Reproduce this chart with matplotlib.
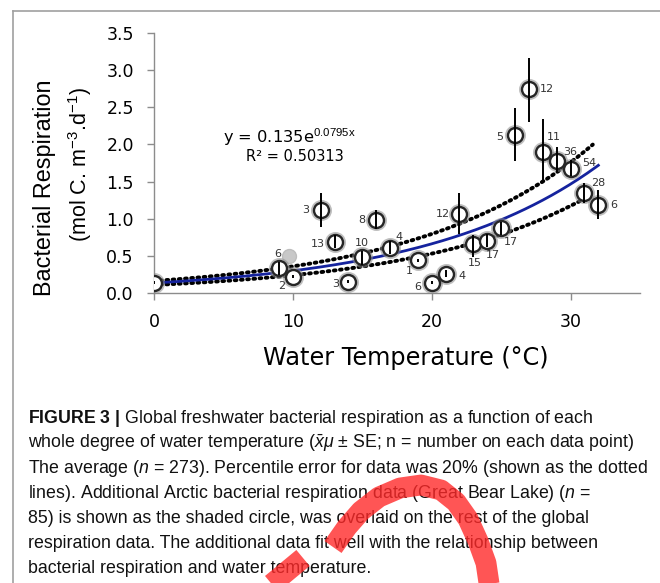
import numpy as np
import matplotlib
matplotlib.use("Agg")
import matplotlib.pyplot as plt
from matplotlib.lines import Line2D

# ---- data ----
temp = [0, 9, 10, 12, 13, 14, 15, 16, 17, 19, 20, 21, 22, 23, 24, 25, 26, 27, 28, 29, 30, 31, 32]
resp = [0.14, 0.34, 0.22, 1.12, 0.69, 0.15, 0.48, 0.98, 0.61, 0.44, 0.14, 0.26, 1.07, 0.66, 0.70, 0.88,
        2.13, 2.74, 1.90, 1.78, 1.67, 1.35, 1.18]
resp_hi = [0.16, 0.42, 0.24, 1.34, 0.78, 0.17, 0.57, 1.12, 0.70, 0.46, 0.16, 0.31, 1.34, 0.78, 0.80, 0.96,
           2.49, 3.17, 2.34, 1.96, 1.79, 1.48, 1.38]
resp_lo = [0.12, 0.24, 0.20, 0.89, 0.60, 0.13, 0.38, 0.86, 0.52, 0.42, 0.12, 0.21, 0.80, 0.49, 0.62, 0.78,
           1.78, 2.30, 1.48, 1.63, 1.57, 1.21, 1.00]
n_labels = ['', '6', '2', '3', '13', '3', '10', '8', '4', '1', '6', '4', '12', '15', '17', '17',
            '5', '12', '11', '36', '54', '28', '6']
# label offsets in pixels (dx, dy up)
label_off = [(0, 0), (-1, 14), (-11, -9), (-15, 0), (-17, -2), (-13, -2), (0, 14), (-14, 0), (9, 11),
             (-9, -11), (-14, -4), (16, -2), (-17, 0), (1, -19), (6, -14), (10, -14),
             (-15, -2), (18, 0), (11, 15), (14, 9), (19, 6), (14, 10), (15, 0)]

arctic_temp = [9.7]
arctic_resp = [0.50]

fit_a, fit_b = 0.135, 0.0795
fit_err = 0.20

caption = [
    r'$\mathbf{FIGURE\ 3\ |}$ Global freshwater bacterial respiration as a function of each',
    r'whole degree of water temperature ($\bar{x}\mu$ $\pm$ SE; n = number on each data point)',
    r'The average ($n$ = 273). Percentile error for data was 20% (shown as the dotted',
    r'lines). Additional Arctic bacterial respiration data (Great Bear Lake) ($n$ =',
    r'85) is shown as the shaded circle, was overlaid on the rest of the global',
    r'respiration data. The additional data fit well with the relationship between',
    r'bacterial respiration and water temperature.',
]

W, H = 660, 583
plt.rcParams['mathtext.fontset'] = 'custom'
plt.rcParams['mathtext.rm'] = 'Liberation Sans'
plt.rcParams['mathtext.it'] = 'Liberation Sans:italic'
plt.rcParams['mathtext.bf'] = 'Liberation Sans:bold'


def fx(px):
    return px / W


def fy(py):
    return 1 - py / H


fig = plt.figure(figsize=(W / 100, H / 100), dpi=100)
ax = fig.add_axes([fx(154), fy(293), (640 - 154) / W, (293 - 33) / H])

# fit line and +-20% dotted band
xf = np.linspace(0, 32, 200)
ax.plot(xf, fit_a * np.exp(fit_b * xf), color='#15239e', lw=2.0, zorder=3)
xd = np.linspace(0, 31.6, 200)
ax.plot(xd, (1 + fit_err) * fit_a * np.exp(fit_b * xd), color='black', lw=2.8,
        ls=(0, (0.45, 1.15)), dash_capstyle='round', zorder=2)
ax.plot(xd, (1 - fit_err) * fit_a * np.exp(fit_b * xd), color='black', lw=2.8,
        ls=(0, (0.45, 1.15)), dash_capstyle='round', zorder=2)

# arctic point
ax.plot(arctic_temp, arctic_resp, 'o', ms=10, mfc='#c8c8c8', mec='#bdbdbd', zorder=4)

# shadow + open circles
ax.plot(temp, resp, 'o', ms=12.5, mfc='white', mec='#8a8a8a', mew=2.6, alpha=0.55, zorder=5)
ax.plot(temp, resp, 'o', ms=10.8, mfc='white', mec='#262626', mew=1.7, zorder=6)
ax.vlines(temp, resp_lo, resp_hi, color='black', lw=1.4, zorder=7)

for x, y, s, (dx, dy) in zip(temp, resp, n_labels, label_off):
    if s:
        ax.annotate(s, (x, y), xytext=(dx, dy), textcoords='offset pixels',
                    ha='center', va='center', fontsize=8, color='#333333', zorder=8)

ax.set_xlim(0, 35)
ax.set_ylim(0, 3.5)
ax.set_xticks([0, 10, 20, 30])
ax.set_yticks(np.arange(0, 3.51, 0.5))
ax.set_yticklabels(['%.1f' % v for v in np.arange(0, 3.51, 0.5)])
for s in ['top', 'right']:
    ax.spines[s].set_visible(False)
for s in ['left', 'bottom']:
    ax.spines[s].set_color('#8c8c8c')
    ax.spines[s].set_linewidth(1.0)
ax.tick_params(axis='both', direction='out', length=5, width=1, color='#8c8c8c',
               labelsize=12.5, pad=9.5)

# equation text
fig.text(fx(223), fy(143), r'y = 0.135e$^{\mathrm{0.0795x}}$', fontsize=11.7, ha='left', va='baseline')
fig.text(fx(246), fy(161), 'R² = 0.50313', fontsize=10.5, ha='left', va='baseline')

# axis titles
fig.text(fx(405.8), fy(358), 'Water Temperature (°C)', fontsize=17.3, ha='center', va='center')
fig.text(fx(45), fy(187.5), 'Bacterial Respiration', fontsize=16.8, family='Liberation Sans',
         rotation=90, ha='center', va='center')
fig.text(fx(80), fy(165), r'(mol C. m$^{-3}$.d$^{-1}$)', fontsize=15.5, family='Liberation Sans',
         rotation=90, ha='center', va='center')

# panel frame
fig.add_artist(Line2D([fx(13), fx(660)], [fy(11), fy(11)], color='#a0a0a0', lw=1.2))
fig.add_artist(Line2D([fx(13), fx(13)], [fy(11), fy(583)], color='#a0a0a0', lw=1.2))

# caption
for i, line in enumerate(caption):
    fig.text(fx(28), fy(422.7 + 25 * i), line, fontsize=12.8, family='Liberation Sans',
             ha='left', va='baseline', color='#111111')

# red watermark stroke
arc_px = [(333, 547), (347, 527), (361, 511), (379, 497), (400, 488), (421, 485), (441, 490),
          (456, 502), (468, 519), (478, 541), (486, 563), (490, 590)]
fig.add_artist(Line2D([fx(p[0]) for p in arc_px], [fy(p[1]) for p in arc_px],
                      color='#ff2a2a', alpha=0.8, lw=15, solid_capstyle='butt',
                      solid_joinstyle='round', zorder=20))
fig.add_artist(Line2D([fx(262), fx(303)], [fy(592), fy(558)], color='#ff2a2a', alpha=0.8,
                      lw=15, solid_capstyle='butt', zorder=20))

fig.savefig('out.png', dpi=100)
